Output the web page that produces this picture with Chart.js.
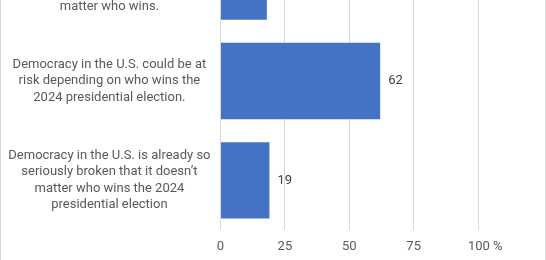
<!DOCTYPE html>
<html>
<head>
<meta charset="utf-8">
<script src="https://cdn.jsdelivr.net/npm/chart.js@4/dist/chart.umd.min.js"></script>
<style>
  html, body { margin: 0; padding: 0; background: #fff; overflow: hidden; }
  body { width: 546px; height: 260px; position: relative; }
  #frame {
    position: absolute; left: 0; top: -80px;
    width: 546px; height: 340px; box-sizing: border-box;
    border-left: 1px solid #d9d9d9; border-right: 1px solid #d9d9d9;
  }
  #chart { display: block; }
</style>
</head>
<body>
<div id="frame"><canvas id="chart" width="544" height="340"></canvas></div>
<script>
// survey answers, wrapped the way the original chart shows them
const categories = [
  ["Democracy in the U.S. is", "strong enough that it will", "remain secure no", "matter who wins."],
  ["Democracy in the U.S. could be at", "risk depending on who wins the", "2024 presidential election."],
  ["Democracy in the U.S. is already so", "seriously broken that it doesn\u2019t", "matter who wins the 2024", "presidential election"]
];
const percents = [18, 62, 19];
const tickValues = [0, 25, 50, 75, 100];

const FONT = "Roboto";

// numbers printed just right of each bar
const valueLabels = {
  id: "valueLabels",
  afterDatasetsDraw(chart) {
    const ctx = chart.ctx;
    const meta = chart.getDatasetMeta(0);
    ctx.save();
    ctx.font = "13px " + FONT;
    ctx.fillStyle = "#404040";
    ctx.textAlign = "left";
    ctx.textBaseline = "middle";
    meta.data.forEach((bar, i) => {
      ctx.fillText(String(percents[i]), bar.x + 8, bar.y);
    });
    ctx.restore();
  }
};

// keep the plot box where the original has it, whatever the labels measure
function noPadding(scale) {
  scale.paddingTop = 0;
  scale.paddingBottom = 0;
  scale.paddingLeft = 0;
  scale.paddingRight = 0;
}

const chart = new Chart(document.getElementById("chart"), {
  type: "bar",
  data: {
    labels: categories,
    datasets: [{
      data: percents,
      backgroundColor: "#4472c4",
      borderWidth: 0,
      barPercentage: 0.768,
      categoryPercentage: 1
    }]
  },
  options: {
    indexAxis: "y",
    responsive: false,
    animation: false,
    layout: { padding: { top: 12, right: 67, bottom: 0, left: 0 } },
    plugins: {
      legend: { display: false },
      tooltip: { enabled: false }
    },
    scales: {
      x: {
        min: 0,
        max: 100,
        afterBuildTicks(scale) {
          scale.ticks = tickValues.map(v => ({ value: v }));
        },
        afterFit(scale) { scale.height = 30; noPadding(scale); },
        grid: { color: "#d9d9d9", drawTicks: false },
        border: { display: false },
        ticks: {
          padding: 9,
          color: "#595959",
          font: { family: FONT, size: 13 },
          maxRotation: 0,
          callback: v => v === 100 ? "\u2007\u2007100 %" : String(v)
        }
      },
      y: {
        afterFit(scale) { scale.width = 219.5; noPadding(scale); },
        grid: { display: false, drawTicks: false },
        border: { display: false },
        ticks: {
          padding: 10,
          crossAlign: "center",
          color: "#595959",
          font: { family: FONT, size: 13, lineHeight: 1.27 }
        }
      }
    }
  },
  plugins: [valueLabels]
});
</script>
</body>
</html>
